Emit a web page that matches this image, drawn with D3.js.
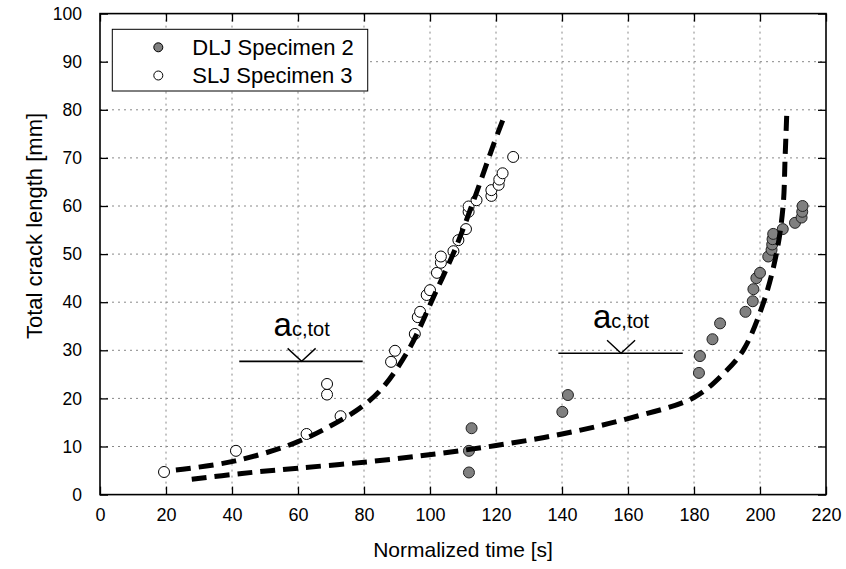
<!DOCTYPE html>
<html>
<head>
<meta charset="utf-8">
<script src="https://cdn.jsdelivr.net/npm/d3@7"></script>
<style>
    body { margin: 0; background: #fff; }
    text { font-family: "Liberation Sans", Arial, sans-serif; fill: #000; }
</style>
</head>
<body>
<svg id="chart"></svg>
<script>
// measured points, SLJ specimen 3 (open circles)
const sljTime  = [19.4, 41.2, 62.6, 68.8, 68.8, 72.9, 88.2, 89.4, 95.4, 96.3, 97.0, 99.0, 100.0, 102.1,
                  103.3, 103.3, 107.1, 108.6, 110.9, 111.7, 111.7, 114.1, 118.6, 118.6, 120.8, 121.0, 122.0, 125.2];
const sljCrack = [4.7, 9.1, 12.6, 20.8, 23.0, 16.3, 27.6, 29.9, 33.4, 36.9, 38.0, 41.5, 42.5, 46.1,
                  48.2, 49.5, 50.6, 52.9, 55.2, 58.8, 59.9, 61.2, 62.1, 63.3, 64.4, 65.5, 66.8, 70.2];

// measured points, DLJ specimen 2 (filled circles)
const dljTime  = [111.8, 111.8, 112.6, 140.1, 141.8, 181.5, 181.8, 185.6, 187.9, 195.6, 197.8, 198.0,
                  198.9, 200.0, 202.5, 203.5, 203.7, 203.8, 204.0, 206.9, 210.6, 212.6, 212.8, 212.9];
const dljCrack = [4.6, 9.1, 13.8, 17.2, 20.7, 25.3, 28.8, 32.3, 35.6, 38.0, 40.2, 42.7,
                  45.0, 46.1, 49.5, 50.9, 52.0, 53.1, 54.2, 55.2, 56.5, 57.6, 58.8, 60.0];

// model curves (dashed)
const sljFitTime  = [23, 41, 60, 73, 80, 86, 94, 101, 107.6, 114, 119, 122.7];
const sljFitCrack = [5.1, 7.0, 11.0, 15.5, 18.6, 22.5, 30.7, 41.0, 51.0, 62.6, 72.3, 79.0];
const dljFitTime  = [27.8, 43, 60, 81, 101, 120, 140, 160, 180, 189, 195, 201, 205, 207, 207.6, 208.1];
const dljFitCrack = [3.2, 4.4, 5.5, 6.8, 8.4, 10.2, 12.6, 15.8, 20.2, 25.2, 30.1, 39.8, 50.2, 60.0, 70.0, 79.0];

// critical crack length markers: [x start, x end, arrow x, y]
const critSlj = [42.2, 79.6, 61.1, 27.7];
const critDlj = [138.9, 176.6, 157.9, 29.4];

const xTicks = d3.range(0, 221, 20);
const yTicks = d3.range(0, 101, 10);
const seriesNames = ['DLJ Specimen 2', 'SLJ Specimen 3'];

const width = 846, height = 569;
const margin = {top: 13.6, right: 20, bottom: 74.4, left: 100};
const innerW = width - margin.left - margin.right;
const innerH = height - margin.top - margin.bottom;

const svg = d3.select('#chart').attr('width', width).attr('height', height);
const chart = svg.append('g').attr('transform', `translate(${margin.left}, ${margin.top})`);

const xscale = d3.scaleLinear().domain([0, 220]).range([0, innerW]);
const yscale = d3.scaleLinear().domain([0, 100]).range([innerH, 0]);

// grid
chart.append('g').selectAll('line').data(xTicks.slice(1, -1)).join('line')
    .attr('x1', d => xscale(d)).attr('x2', d => xscale(d))
    .attr('y1', 0).attr('y2', innerH)
    .attr('stroke', '#888').attr('stroke-dasharray', '2,4');
chart.append('g').selectAll('line').data(yTicks.slice(1, -1)).join('line')
    .attr('y1', d => yscale(d)).attr('y2', d => yscale(d))
    .attr('x1', 0).attr('x2', innerW)
    .attr('stroke', '#888').attr('stroke-dasharray', '2,4');

// axes, ticks point inward on all four sides
const tickLen = 8;
const xaxis = chart.append('g').attr('transform', `translate(0, ${innerH})`)
    .call(d3.axisBottom(xscale).tickValues(xTicks).tickSizeInner(-tickLen).tickSizeOuter(0).tickPadding(tickLen + 6));
const yaxis = chart.append('g')
    .call(d3.axisLeft(yscale).tickValues(yTicks).tickSizeInner(-tickLen).tickSizeOuter(0).tickPadding(18));
chart.append('g').call(d3.axisTop(xscale).tickValues(xTicks).tickSizeInner(-tickLen).tickSizeOuter(0).tickFormat(''));
chart.append('g').attr('transform', `translate(${innerW}, 0)`)
    .call(d3.axisRight(yscale).tickValues(yTicks).tickSizeInner(-tickLen).tickSizeOuter(0).tickFormat(''));

chart.selectAll('.domain').remove();
chart.selectAll('.tick line').attr('stroke', '#000').attr('stroke-width', 1.3);
xaxis.selectAll('text').style('font-size', '18px').attr('font-family', null);
yaxis.selectAll('text').style('font-size', '17.5px').attr('font-family', null);

chart.append('rect')
    .attr('width', innerW).attr('height', innerH)
    .attr('fill', 'none').attr('stroke', '#000').attr('stroke-width', 1.6);

// points
const slj = sljTime.map((t, i) => ({t: t, a: sljCrack[i]}));
const dlj = dljTime.map((t, i) => ({t: t, a: dljCrack[i]}));

chart.append('g').selectAll('circle').data(slj).join('circle')
    .attr('cx', d => xscale(d.t)).attr('cy', d => yscale(d.a)).attr('r', 5.5)
    .attr('fill', '#fff').attr('stroke', '#000').attr('stroke-width', 1);
chart.append('g').selectAll('circle').data(dlj).join('circle')
    .attr('cx', d => xscale(d.t)).attr('cy', d => yscale(d.a)).attr('r', 5.5)
    .attr('fill', '#808080').attr('stroke', '#222').attr('stroke-width', 1);

// dashed model curves
const line = d3.line()
    .x(d => xscale(d[0]))
    .y(d => yscale(d[1]))
    .curve(d3.curveCatmullRom);

[[sljFitTime, sljFitCrack], [dljFitTime, dljFitCrack]].forEach(([xs, ys]) => {
    chart.append('path')
        .attr('d', line(xs.map((x, i) => [x, ys[i]])))
        .attr('fill', 'none').attr('stroke', '#000')
        .attr('stroke-width', 5).attr('stroke-dasharray', '15,8');
});

// a_c,tot markers
[critSlj, critDlj].forEach(c => {
    const g = chart.append('g');
    const yl = yscale(c[3]);
    const xa = xscale(c[2]);
    g.append('line')
        .attr('x1', xscale(c[0])).attr('x2', xscale(c[1]))
        .attr('y1', yl).attr('y2', yl)
        .attr('stroke', '#000').attr('stroke-width', 1.6);
    g.append('path')
        .attr('d', `M${xa - 14},${yl - 13}L${xa},${yl}L${xa + 14},${yl - 13}`)
        .attr('fill', 'none').attr('stroke', '#000').attr('stroke-width', 1.4);
    const t = g.append('text')
        .attr('x', xa).attr('y', yl - 25)
        .attr('text-anchor', 'middle');
    t.append('tspan').style('font-size', '33px').text('a');
    t.append('tspan').style('font-size', '20px').text('c,tot');
});

// legend
const legend = chart.append('g');
const legendBox = legend.append('rect')
    .attr('x', 12.3).attr('y', 15.7).attr('height', 61.7)
    .attr('fill', '#fff').attr('stroke', '#000').attr('stroke-width', 1);
const legendText = legend.selectAll('text').data(seriesNames).join('text')
    .attr('x', 92.3).attr('y', (d, i) => 33.7 + i * 28.2).attr('dy', '0.35em')
    .style('font-size', '22px')
    .text(d => d);
legend.selectAll('circle').data(seriesNames).join('circle')
    .attr('cx', 58.3).attr('cy', (d, i) => 33.7 + i * 28.2).attr('r', 4.5)
    .attr('fill', (d, i) => i === 0 ? '#808080' : '#fff')
    .attr('stroke', '#000').attr('stroke-width', 1);
const textW = d3.max(legendText.nodes(), n => n.getComputedTextLength());
legendBox.attr('width', 80 + textW + 14);

// axis titles
svg.append('text')
    .style('font-size', '21px')
    .attr('x', margin.left + innerW / 2)
    .attr('y', 557)
    .attr('text-anchor', 'middle')
    .text('Normalized time [s]');

svg.append('text')
    .style('font-size', '22px')
    .attr('transform', 'rotate(-90)')
    .attr('x', -226)
    .attr('y', 42)
    .attr('text-anchor', 'middle')
    .text('Total crack length [mm]');
</script>
</body>
</html>
